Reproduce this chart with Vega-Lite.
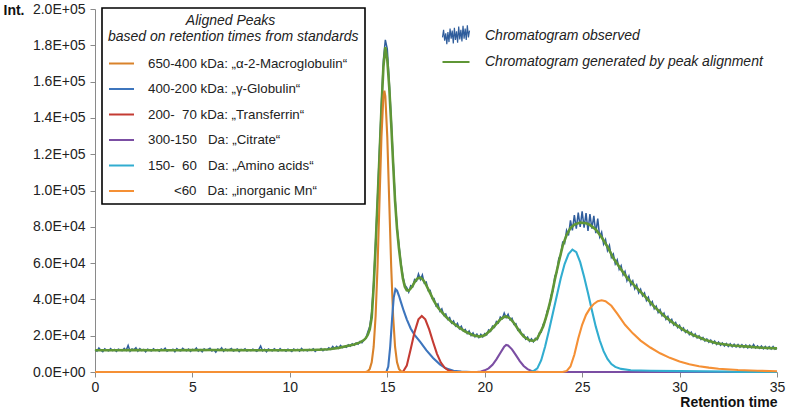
{
  "$schema": "https://vega.github.io/schema/vega-lite/v6.json",
  "width": 682,
  "height": 363,
  "autosize": {"type": "none"},
  "padding": {"left": 95, "top": 9, "right": 14, "bottom": 39},
  "config": {
    "font": "Liberation Sans",
    "view": {"stroke": null},
    "axis": {"grid": false, "domainColor": "#8a8a8a", "tickColor": "#8a8a8a", "labelColor": "#222222", "titleColor": "#111111", "labelFontSize": 14, "tickSize": 5, "labelOverlap": false}
  },
  "datasets": {
    "obs": [
      {"t":0.0,"v":12300},{"t":0.1,"v":11500},{"t":0.2,"v":13200},{"t":0.3,"v":12000},{"t":0.4,"v":11200},{"t":0.5,"v":12800},{"t":0.6,"v":12100},{"t":0.7,"v":11600},{"t":0.8,"v":12900},{"t":0.9,"v":11800},
      {"t":1.0,"v":12400},{"t":1.1,"v":11300},{"t":1.2,"v":12600},{"t":1.3,"v":12000},{"t":1.4,"v":11700},{"t":1.5,"v":13000},{"t":1.6,"v":11900},{"t":1.7,"v":14600},{"t":1.8,"v":11400},{"t":1.9,"v":12700},
      {"t":2.0,"v":12200},{"t":2.1,"v":13400},{"t":2.2,"v":11500},{"t":2.3,"v":12900},{"t":2.4,"v":11800},{"t":2.5,"v":12400},{"t":2.6,"v":11100},{"t":2.7,"v":12600},{"t":2.8,"v":12000},{"t":2.9,"v":11600},
      {"t":3.0,"v":12800},{"t":3.1,"v":11900},{"t":3.2,"v":12300},{"t":3.3,"v":11400},{"t":3.4,"v":12700},{"t":3.5,"v":12100},{"t":3.6,"v":13100},{"t":3.7,"v":11500},{"t":3.8,"v":12200},{"t":3.9,"v":11900},
      {"t":4.0,"v":12500},{"t":4.1,"v":11200},{"t":4.2,"v":12900},{"t":4.3,"v":12000},{"t":4.4,"v":11600},{"t":4.5,"v":13000},{"t":4.6,"v":12200},{"t":4.7,"v":11700},{"t":4.8,"v":12600},{"t":4.9,"v":11300},
      {"t":5.0,"v":12400},{"t":5.1,"v":12000},{"t":5.2,"v":13200},{"t":5.3,"v":11500},{"t":5.4,"v":12300},{"t":5.5,"v":11100},{"t":5.6,"v":12800},{"t":5.7,"v":11900},{"t":5.8,"v":12500},{"t":5.9,"v":13100},
      {"t":6.0,"v":11600},{"t":6.1,"v":12200},{"t":6.2,"v":10900},{"t":6.3,"v":12700},{"t":6.4,"v":12000},{"t":6.5,"v":13300},{"t":6.6,"v":11400},{"t":6.7,"v":12600},{"t":6.8,"v":11800},{"t":6.9,"v":12300},
      {"t":7.0,"v":12900},{"t":7.1,"v":11500},{"t":7.2,"v":12100},{"t":7.3,"v":12700},{"t":7.4,"v":11300},{"t":7.5,"v":12400},{"t":7.6,"v":11900},{"t":7.7,"v":12800},{"t":7.8,"v":11600},{"t":7.9,"v":12200},
      {"t":8.0,"v":11800},{"t":8.1,"v":12600},{"t":8.2,"v":12000},{"t":8.3,"v":11400},{"t":8.4,"v":12300},{"t":8.5,"v":14300},{"t":8.6,"v":11700},{"t":8.7,"v":12500},{"t":8.8,"v":11200},{"t":8.9,"v":12700},
      {"t":9.0,"v":12100},{"t":9.1,"v":11600},{"t":9.2,"v":12800},{"t":9.3,"v":12000},{"t":9.4,"v":11500},{"t":9.5,"v":12900},{"t":9.6,"v":11800},{"t":9.7,"v":12300},{"t":9.8,"v":11400},{"t":9.9,"v":12600},
      {"t":10.0,"v":12000},{"t":10.1,"v":11300},{"t":10.2,"v":12700},{"t":10.3,"v":11900},{"t":10.4,"v":12400},{"t":10.5,"v":11500},{"t":10.6,"v":13000},{"t":10.7,"v":11800},{"t":10.8,"v":12200},{"t":10.9,"v":11600},
      {"t":11.0,"v":12500},{"t":11.1,"v":11900},{"t":11.2,"v":12800},{"t":11.3,"v":11400},{"t":11.4,"v":12300},{"t":11.5,"v":12000},{"t":11.6,"v":12900},{"t":11.7,"v":11700},{"t":11.8,"v":12600},{"t":11.9,"v":12200},
      {"t":12.0,"v":13300},{"t":12.1,"v":12400},{"t":12.2,"v":14100},{"t":12.3,"v":13000},{"t":12.4,"v":14200},{"t":12.5,"v":13100},{"t":12.6,"v":14600},{"t":12.7,"v":13500},{"t":12.8,"v":14000},{"t":12.9,"v":13600},
      {"t":13.0,"v":15000},{"t":13.1,"v":14200},{"t":13.2,"v":15600},{"t":13.3,"v":14800},{"t":13.4,"v":16000},{"t":13.5,"v":15300},{"t":13.6,"v":16800},{"t":13.7,"v":16100},{"t":13.8,"v":17600},{"t":13.9,"v":18500},
      {"t":14.0,"v":22000},{"t":14.1,"v":25000},{"t":14.2,"v":33000},{"t":14.3,"v":49000},{"t":14.4,"v":72000},{"t":14.5,"v":96000},{"t":14.6,"v":123000},{"t":14.7,"v":148000},{"t":14.8,"v":172000},{"t":14.9,"v":183000},
      {"t":15.0,"v":178000},{"t":15.1,"v":160000},{"t":15.2,"v":140000},{"t":15.3,"v":117000},{"t":15.4,"v":96000},{"t":15.5,"v":80000},{"t":15.6,"v":70000},{"t":15.7,"v":60000},{"t":15.8,"v":53000},{"t":15.9,"v":48000},
      {"t":16.0,"v":46500},{"t":16.1,"v":44000},{"t":16.2,"v":47500},{"t":16.3,"v":46800},{"t":16.4,"v":51000},{"t":16.5,"v":50200},{"t":16.6,"v":54000},{"t":16.7,"v":51000},{"t":16.8,"v":53500},{"t":16.9,"v":49000},
      {"t":17.0,"v":49500},{"t":17.1,"v":44800},{"t":17.2,"v":45000},{"t":17.3,"v":40500},{"t":17.4,"v":40500},{"t":17.5,"v":36500},{"t":17.6,"v":37500},{"t":17.7,"v":33500},{"t":17.8,"v":34800},{"t":17.9,"v":31200},
      {"t":18.0,"v":32000},{"t":18.1,"v":29000},{"t":18.2,"v":30000},{"t":18.3,"v":27000},{"t":18.4,"v":28200},{"t":18.5,"v":25400},{"t":18.6,"v":26800},{"t":18.7,"v":23800},{"t":18.8,"v":25200},{"t":18.9,"v":22600},
      {"t":19.0,"v":23500},{"t":19.1,"v":21200},{"t":19.2,"v":22600},{"t":19.3,"v":20100},{"t":19.4,"v":21500},{"t":19.5,"v":19400},{"t":19.6,"v":20900},{"t":19.7,"v":19000},{"t":19.8,"v":20800},{"t":19.9,"v":19300},
      {"t":20.0,"v":21200},{"t":20.1,"v":20500},{"t":20.2,"v":23200},{"t":20.3,"v":22400},{"t":20.4,"v":25300},{"t":20.5,"v":24600},{"t":20.6,"v":27800},{"t":20.7,"v":27000},{"t":20.8,"v":30300},{"t":20.9,"v":29400},
      {"t":21.0,"v":32500},{"t":21.1,"v":30000},{"t":21.2,"v":31800},{"t":21.3,"v":28800},{"t":21.4,"v":29600},{"t":21.5,"v":26300},{"t":21.6,"v":26600},{"t":21.7,"v":23000},{"t":21.8,"v":23400},{"t":21.9,"v":20600},
      {"t":22.0,"v":20600},{"t":22.1,"v":18100},{"t":22.2,"v":19200},{"t":22.3,"v":16900},{"t":22.4,"v":18300},{"t":22.5,"v":16600},{"t":22.6,"v":18600},{"t":22.7,"v":17900},{"t":22.8,"v":21500},{"t":22.9,"v":21900},
      {"t":23.0,"v":26300},{"t":23.1,"v":27800},{"t":23.2,"v":33500},{"t":23.3,"v":35200},{"t":23.4,"v":42000},{"t":23.5,"v":44600},{"t":23.6,"v":52800},{"t":23.7,"v":55000},{"t":23.8,"v":62500},{"t":23.9,"v":64600},
      {"t":24.0,"v":71500},{"t":24.1,"v":70800},{"t":24.2,"v":78000},{"t":24.3,"v":75200},{"t":24.4,"v":83500},{"t":24.5,"v":78000},{"t":24.6,"v":86500},{"t":24.7,"v":79000},{"t":24.8,"v":87800},{"t":24.9,"v":80000},
      {"t":25.0,"v":88500},{"t":25.1,"v":79500},{"t":25.2,"v":87500},{"t":25.3,"v":77800},{"t":25.4,"v":87000},{"t":25.5,"v":79000},{"t":25.6,"v":86000},{"t":25.7,"v":76500},{"t":25.8,"v":84500},{"t":25.9,"v":74500},
      {"t":26.0,"v":77000},{"t":26.1,"v":70500},{"t":26.2,"v":73000},{"t":26.3,"v":67000},{"t":26.4,"v":69800},{"t":26.5,"v":63200},{"t":26.6,"v":65000},{"t":26.7,"v":59600},{"t":26.8,"v":61800},{"t":26.9,"v":56600},
      {"t":27.0,"v":58600},{"t":27.1,"v":53500},{"t":27.2,"v":55400},{"t":27.3,"v":50300},{"t":27.4,"v":52900},{"t":27.5,"v":48000},{"t":27.6,"v":50200},{"t":27.7,"v":45800},{"t":27.8,"v":48000},{"t":27.9,"v":43600},
      {"t":28.0,"v":45600},{"t":28.1,"v":42000},{"t":28.2,"v":43500},{"t":28.3,"v":39400},{"t":28.4,"v":41200},{"t":28.5,"v":37000},{"t":28.6,"v":38800},{"t":28.7,"v":34800},{"t":28.8,"v":36300},{"t":28.9,"v":32800},
      {"t":29.0,"v":34300},{"t":29.1,"v":31000},{"t":29.2,"v":32400},{"t":29.3,"v":29000},{"t":29.4,"v":30600},{"t":29.5,"v":27400},{"t":29.6,"v":29000},{"t":29.7,"v":25900},{"t":29.8,"v":27300},{"t":29.9,"v":24500},
      {"t":30.0,"v":25800},{"t":30.1,"v":23000},{"t":30.2,"v":24300},{"t":30.3,"v":21800},{"t":30.4,"v":23000},{"t":30.5,"v":20600},{"t":30.6,"v":21900},{"t":30.7,"v":19600},{"t":30.8,"v":21000},{"t":30.9,"v":18800},
      {"t":31.0,"v":20000},{"t":31.1,"v":17900},{"t":31.2,"v":19000},{"t":31.3,"v":17100},{"t":31.4,"v":18200},{"t":31.5,"v":16400},{"t":31.6,"v":17600},{"t":31.7,"v":15700},{"t":31.8,"v":17000},{"t":31.9,"v":15200},
      {"t":32.0,"v":16500},{"t":32.1,"v":14700},{"t":32.2,"v":16000},{"t":32.3,"v":14300},{"t":32.4,"v":15700},{"t":32.5,"v":14100},{"t":32.6,"v":15500},{"t":32.7,"v":13900},{"t":32.8,"v":15300},{"t":32.9,"v":13800},
      {"t":33.0,"v":15100},{"t":33.1,"v":13600},{"t":33.2,"v":15000},{"t":33.3,"v":13500},{"t":33.4,"v":14900},{"t":33.5,"v":13300},{"t":33.6,"v":14800},{"t":33.7,"v":13400},{"t":33.8,"v":15200},{"t":33.9,"v":13200},
      {"t":34.0,"v":14400},{"t":34.1,"v":13000},{"t":34.2,"v":14300},{"t":34.3,"v":12800},{"t":34.4,"v":14100},{"t":34.5,"v":12700},{"t":34.6,"v":13900},{"t":34.7,"v":12600},{"t":34.8,"v":14000},{"t":34.9,"v":12500},
      {"t":35.0,"v":13200}
    ],
    "gen": [
      {"t":0,"v":12000},{"t":1,"v":12000},{"t":2,"v":12050},{"t":3,"v":12000},{"t":4,"v":12000},{"t":5,"v":12050},{"t":6,"v":12100},{"t":7,"v":12050},{"t":8,"v":12000},{"t":9,"v":12000},{"t":10,"v":12000},{"t":11,"v":12100},{"t":11.5,"v":12250},{"t":12,"v":12500},{"t":12.5,"v":13300},{"t":13,"v":14500},{"t":13.3,"v":15200},{"t":13.6,"v":16300},{"t":13.8,"v":17600},{"t":13.9,"v":18700},
      {"t":14.0,"v":20500},{"t":14.1,"v":23500},{"t":14.2,"v":30000},{"t":14.3,"v":47000},{"t":14.4,"v":69000},{"t":14.5,"v":94000},{"t":14.6,"v":119000},{"t":14.7,"v":145000},{"t":14.8,"v":168000},{"t":14.9,"v":179000},
      {"t":15.0,"v":172000},{"t":15.1,"v":157000},{"t":15.2,"v":137000},{"t":15.3,"v":115000},{"t":15.4,"v":94000},{"t":15.5,"v":79000},{"t":15.6,"v":68000},{"t":15.7,"v":59000},{"t":15.8,"v":51500},{"t":15.9,"v":47000},
      {"t":16.0,"v":45000},{"t":16.1,"v":44800},{"t":16.2,"v":46000},{"t":16.3,"v":47500},{"t":16.4,"v":49500},{"t":16.5,"v":51000},{"t":16.6,"v":51800},{"t":16.7,"v":52000},{"t":16.8,"v":51200},{"t":16.9,"v":49800},
      {"t":17.0,"v":47800},{"t":17.2,"v":43500},{"t":17.4,"v":39000},{"t":17.6,"v":35500},{"t":17.8,"v":33000},{"t":18.0,"v":30500},{"t":18.3,"v":27500},{"t":18.7,"v":24400},{"t":19.0,"v":22300},{"t":19.4,"v":20300},{"t":19.75,"v":19500},
      {"t":20.0,"v":20200},{"t":20.3,"v":23000},{"t":20.6,"v":26500},{"t":20.8,"v":28900},{"t":21.0,"v":30400},{"t":21.1,"v":30600},{"t":21.3,"v":29500},{"t":21.5,"v":27000},{"t":21.8,"v":22200},{"t":22.0,"v":19500},{"t":22.3,"v":17500},{"t":22.5,"v":17100},{"t":22.7,"v":18500},
      {"t":23.0,"v":25000},{"t":23.2,"v":32000},{"t":23.4,"v":40500},{"t":23.6,"v":51000},{"t":23.8,"v":60500},{"t":24.0,"v":69500},{"t":24.2,"v":75500},{"t":24.4,"v":79300},{"t":24.6,"v":81200},{"t":24.9,"v":82300},
      {"t":25.2,"v":82000},{"t":25.4,"v":81000},{"t":25.7,"v":78500},{"t":26.0,"v":74200},{"t":26.3,"v":69000},{"t":26.6,"v":62800},{"t":27.0,"v":56500},{"t":27.3,"v":52000},{"t":27.65,"v":48000},{"t":28.2,"v":42000},{"t":28.7,"v":36000},
      {"t":29.2,"v":31000},{"t":29.7,"v":26800},{"t":30.2,"v":23200},{"t":30.7,"v":20400},{"t":31.3,"v":17800},{"t":31.9,"v":15800},{"t":32.7,"v":14600},{"t":33.5,"v":14000},{"t":34.2,"v":13400},{"t":35,"v":13000}
    ],
    "comp": [
      {"peak":"A","t":0,"v":0},{"peak":"A","t":13.9,"v":0},{"peak":"A","t":14.0,"v":500},{"peak":"A","t":14.1,"v":1700},{"peak":"A","t":14.2,"v":5300},{"peak":"A","t":14.3,"v":13800},{"peak":"A","t":14.4,"v":30700},{"peak":"A","t":14.5,"v":58200},{"peak":"A","t":14.6,"v":94000},{"peak":"A","t":14.7,"v":129500},{"peak":"A","t":14.8,"v":151900},{"peak":"A","t":14.85,"v":155000},{"peak":"A","t":14.9,"v":151900},{"peak":"A","t":15.0,"v":129500},{"peak":"A","t":15.1,"v":94000},{"peak":"A","t":15.2,"v":58200},{"peak":"A","t":15.3,"v":30700},{"peak":"A","t":15.4,"v":13800},{"peak":"A","t":15.5,"v":5300},{"peak":"A","t":15.6,"v":1700},{"peak":"A","t":15.7,"v":500},{"peak":"A","t":15.8,"v":0},{"peak":"A","t":35,"v":0},
      {"peak":"B","t":0,"v":0},{"peak":"B","t":14.95,"v":0},{"peak":"B","t":15.05,"v":3000},{"peak":"B","t":15.15,"v":14000},{"peak":"B","t":15.25,"v":30000},{"peak":"B","t":15.33,"v":41000},{"peak":"B","t":15.42,"v":45700},{"peak":"B","t":15.5,"v":44800},{"peak":"B","t":15.6,"v":42000},{"peak":"B","t":15.7,"v":38500},{"peak":"B","t":15.85,"v":33500},{"peak":"B","t":16.0,"v":29000},{"peak":"B","t":16.2,"v":24000},{"peak":"B","t":16.4,"v":20500},{"peak":"B","t":16.7,"v":16500},{"peak":"B","t":17.0,"v":12000},{"peak":"B","t":17.35,"v":7700},{"peak":"B","t":17.7,"v":4200},{"peak":"B","t":18.0,"v":2000},{"peak":"B","t":18.4,"v":700},{"peak":"B","t":18.8,"v":200},{"peak":"B","t":19.3,"v":0},{"peak":"B","t":35,"v":0},
      {"peak":"C","t":0,"v":0},{"peak":"C","t":15.8,"v":0},{"peak":"C","t":16.0,"v":3500},{"peak":"C","t":16.2,"v":12500},{"peak":"C","t":16.4,"v":22000},{"peak":"C","t":16.6,"v":29000},{"peak":"C","t":16.77,"v":30900},{"peak":"C","t":16.95,"v":29000},{"peak":"C","t":17.15,"v":23500},{"peak":"C","t":17.35,"v":16500},{"peak":"C","t":17.55,"v":10000},{"peak":"C","t":17.75,"v":5200},{"peak":"C","t":17.95,"v":2300},{"peak":"C","t":18.15,"v":800},{"peak":"C","t":18.4,"v":150},{"peak":"C","t":18.7,"v":0},{"peak":"C","t":35,"v":0},
      {"peak":"D","t":0,"v":0},{"peak":"D","t":19.6,"v":0},{"peak":"D","t":19.8,"v":300},{"peak":"D","t":20.0,"v":900},{"peak":"D","t":20.2,"v":2000},{"peak":"D","t":20.4,"v":4000},{"peak":"D","t":20.6,"v":7000},{"peak":"D","t":20.8,"v":10500},{"peak":"D","t":21.0,"v":14000},{"peak":"D","t":21.1,"v":14900},{"peak":"D","t":21.2,"v":14600},{"peak":"D","t":21.4,"v":12500},{"peak":"D","t":21.6,"v":9300},{"peak":"D","t":21.8,"v":6000},{"peak":"D","t":22.0,"v":3300},{"peak":"D","t":22.2,"v":1600},{"peak":"D","t":22.4,"v":600},{"peak":"D","t":22.6,"v":200},{"peak":"D","t":22.8,"v":0},{"peak":"D","t":35,"v":0},
      {"peak":"E","t":0,"v":0},{"peak":"E","t":22.3,"v":0},{"peak":"E","t":22.5,"v":500},{"peak":"E","t":22.7,"v":2000},{"peak":"E","t":22.9,"v":6500},{"peak":"E","t":23.1,"v":14000},{"peak":"E","t":23.3,"v":23000},{"peak":"E","t":23.5,"v":32500},{"peak":"E","t":23.7,"v":42000},{"peak":"E","t":23.9,"v":51500},{"peak":"E","t":24.1,"v":59500},{"peak":"E","t":24.3,"v":65000},{"peak":"E","t":24.5,"v":67400},{"peak":"E","t":24.7,"v":66000},{"peak":"E","t":24.9,"v":60500},{"peak":"E","t":25.1,"v":52500},{"peak":"E","t":25.3,"v":43500},{"peak":"E","t":25.5,"v":34000},{"peak":"E","t":25.7,"v":25000},{"peak":"E","t":25.9,"v":17500},{"peak":"E","t":26.1,"v":11500},{"peak":"E","t":26.3,"v":7200},{"peak":"E","t":26.5,"v":4400},{"peak":"E","t":26.7,"v":2800},{"peak":"E","t":27.0,"v":1700},{"peak":"E","t":27.5,"v":1000},{"peak":"E","t":28.5,"v":700},{"peak":"E","t":30.0,"v":500},{"peak":"E","t":32.5,"v":200},{"peak":"E","t":33.0,"v":0},{"peak":"E","t":35,"v":0},
      {"peak":"F","t":0,"v":0},{"peak":"F","t":24.0,"v":0},{"peak":"F","t":24.2,"v":500},{"peak":"F","t":24.4,"v":3000},{"peak":"F","t":24.6,"v":9500},{"peak":"F","t":24.8,"v":18500},{"peak":"F","t":25.0,"v":26000},{"peak":"F","t":25.2,"v":31500},{"peak":"F","t":25.4,"v":35000},{"peak":"F","t":25.6,"v":37500},{"peak":"F","t":25.8,"v":39000},{"peak":"F","t":26.0,"v":39500},{"peak":"F","t":26.2,"v":39000},{"peak":"F","t":26.5,"v":36500},{"peak":"F","t":26.8,"v":32200},{"peak":"F","t":27.2,"v":26000},{"peak":"F","t":27.6,"v":21300},{"peak":"F","t":28.0,"v":17300},{"peak":"F","t":28.5,"v":13500},{"peak":"F","t":29.0,"v":10300},{"peak":"F","t":29.5,"v":7800},{"peak":"F","t":30.0,"v":5800},{"peak":"F","t":30.5,"v":4300},{"peak":"F","t":31.0,"v":3200},{"peak":"F","t":31.5,"v":2400},{"peak":"F","t":32.0,"v":1800},{"peak":"F","t":33.0,"v":1100},{"peak":"F","t":34.0,"v":700},{"peak":"F","t":35.0,"v":400}
    ]
  },
  "encoding": {
    "x": {"field": "t", "type": "quantitative", "scale": {"domain": [0, 35], "nice": false, "zero": false},
          "axis": {"values": [0, 5, 10, 15, 20, 25, 30, 35], "title": "Retention time", "titleFontWeight": "bold", "titleFontSize": 14, "titleAnchor": "end", "titleAlign": "right", "labelPadding": 3, "titlePadding": 1, "labelFlush": false}},
    "y": {"field": "v", "type": "quantitative", "scale": {"domain": [0, 200000], "nice": false},
          "axis": {"values": [0, 20000, 40000, 60000, 80000, 100000, 120000, 140000, 160000, 180000, 200000],
                   "labelExpr": "datum.value == 0 ? '0.0E+00' : datum.value < 100000 ? format(datum.value / 10000, '.1f') + 'E+04' : format(datum.value / 100000, '.1f') + 'E+05'",
                   "title": "Int.", "titleAngle": 0, "titleX": -92, "titleY": 1, "titleAlign": "left", "titleBaseline": "middle", "titleFontWeight": "bold", "titleFontSize": 14, "labelPadding": 5}}
  },
  "layer": [
    {
      "layer": [
        {
          "data": {"name": "obs"},
          "mark": {"type": "line", "strokeWidth": 1.5},
          "encoding": {
            "color": {"datum": "Chromatogram observed", "type": "nominal",
                      "scale": {"domain": ["Chromatogram observed", "Chromatogram generated by peak alignment"], "range": ["#2f5d9c", "#5f9636"]},
                      "legend": {"orient": "none", "legendX": 354, "legendY": 20, "title": null, "padding": 0,
                                 "labelFontStyle": "italic", "labelFontSize": 14, "labelColor": "#222222", "labelOffset": 22, "labelLimit": 400,
                                 "symbolType": "stroke", "symbolSize": 729, "symbolStrokeWidth": 2, "rowPadding": 8,
                                 "encode": {"symbols": {"update": {
                                   "shape": {"signal": "datum.value === 'Chromatogram observed' ? 'M-1,0.1L-0.92,-0.45L-0.84,0.35L-0.76,-0.2L-0.68,0.6L-0.6,-0.3L-0.52,0.45L-0.44,-0.55L-0.36,0.2L-0.28,-0.4L-0.2,0.55L-0.12,-0.6L-0.04,0.3L0.04,-0.35L0.12,0.5L0.2,-0.7L0.28,0.25L0.36,-0.45L0.44,0.4L0.52,-0.75L0.6,0.2L0.68,-0.55L0.76,0.3L0.84,-0.8L0.92,0.1L1,-0.4' : 'stroke'"},
                                   "strokeWidth": {"signal": "datum.value === 'Chromatogram observed' ? 1.2 : 2"}
                                 }}}}}
          }
        },
        {
          "data": {"name": "gen"},
          "mark": {"type": "line", "strokeWidth": 2.6},
          "encoding": {
            "color": {"datum": "Chromatogram generated by peak alignment", "type": "nominal"}
          }
        }
      ]
    },
    {
      "data": {"name": "comp"},
      "mark": {"type": "line", "strokeWidth": 2.1},
      "encoding": {
        "color": {
          "field": "peak", "type": "nominal",
          "scale": {"domain": ["A", "B", "C", "D", "E", "F"], "range": ["#d9822b", "#3d75bd", "#c43b33", "#7b4ea3", "#31add0", "#f59035"]},
          "legend": {
            "orient": "none", "legendX": 7, "legendY": -1,
            "title": ["\u200b\u2007\u2007\u2007\u2007\u2007\u2007\u2007\u2007\u2007\u2007Aligned Peaks", "based on retention times from standards"],
            "titleFontStyle": "italic", "titleFontWeight": "normal", "titleFontSize": 14, "titleColor": "#222222",
            "titleAnchor": "start", "titleAlign": "left", "titleLineHeight": 16, "titlePadding": 6, "titleLimit": 400,
            "labelFontSize": 13.3, "labelColor": "#222222", "labelOffset": 13, "labelLimit": 400,
            "labelExpr": "datum.value == 'A' ? '650-400 kDa: \u201e\u03b1-2-Macroglobulin\u201c' : datum.value == 'B' ? '400-200 kDa: \u201e\u03b3-Globulin\u201c' : datum.value == 'C' ? '200-\u200770 kDa: \u201eTransferrin\u201c' : datum.value == 'D' ? '300-150 \u2007Da: \u201eCitrate\u201c' : datum.value == 'E' ? '150-\u200760 \u2007Da: \u201eAmino acids\u201c' : '\u200b\u2007\u2007\u2007 <60 \u2007Da: \u201einorganic Mn\u201c'",
            "symbolType": "stroke", "symbolSize": 625, "symbolStrokeWidth": 2, "rowPadding": 5.5,
            "padding": 6, "strokeColor": "#000000", "fillColor": "#ffffff",
            "encode": {"legend": {"update": {"strokeWidth": {"value": 1.6}}}}
          }
        }
      }
    }
  ],
  "resolve": {"scale": {"color": "independent"}}
}
